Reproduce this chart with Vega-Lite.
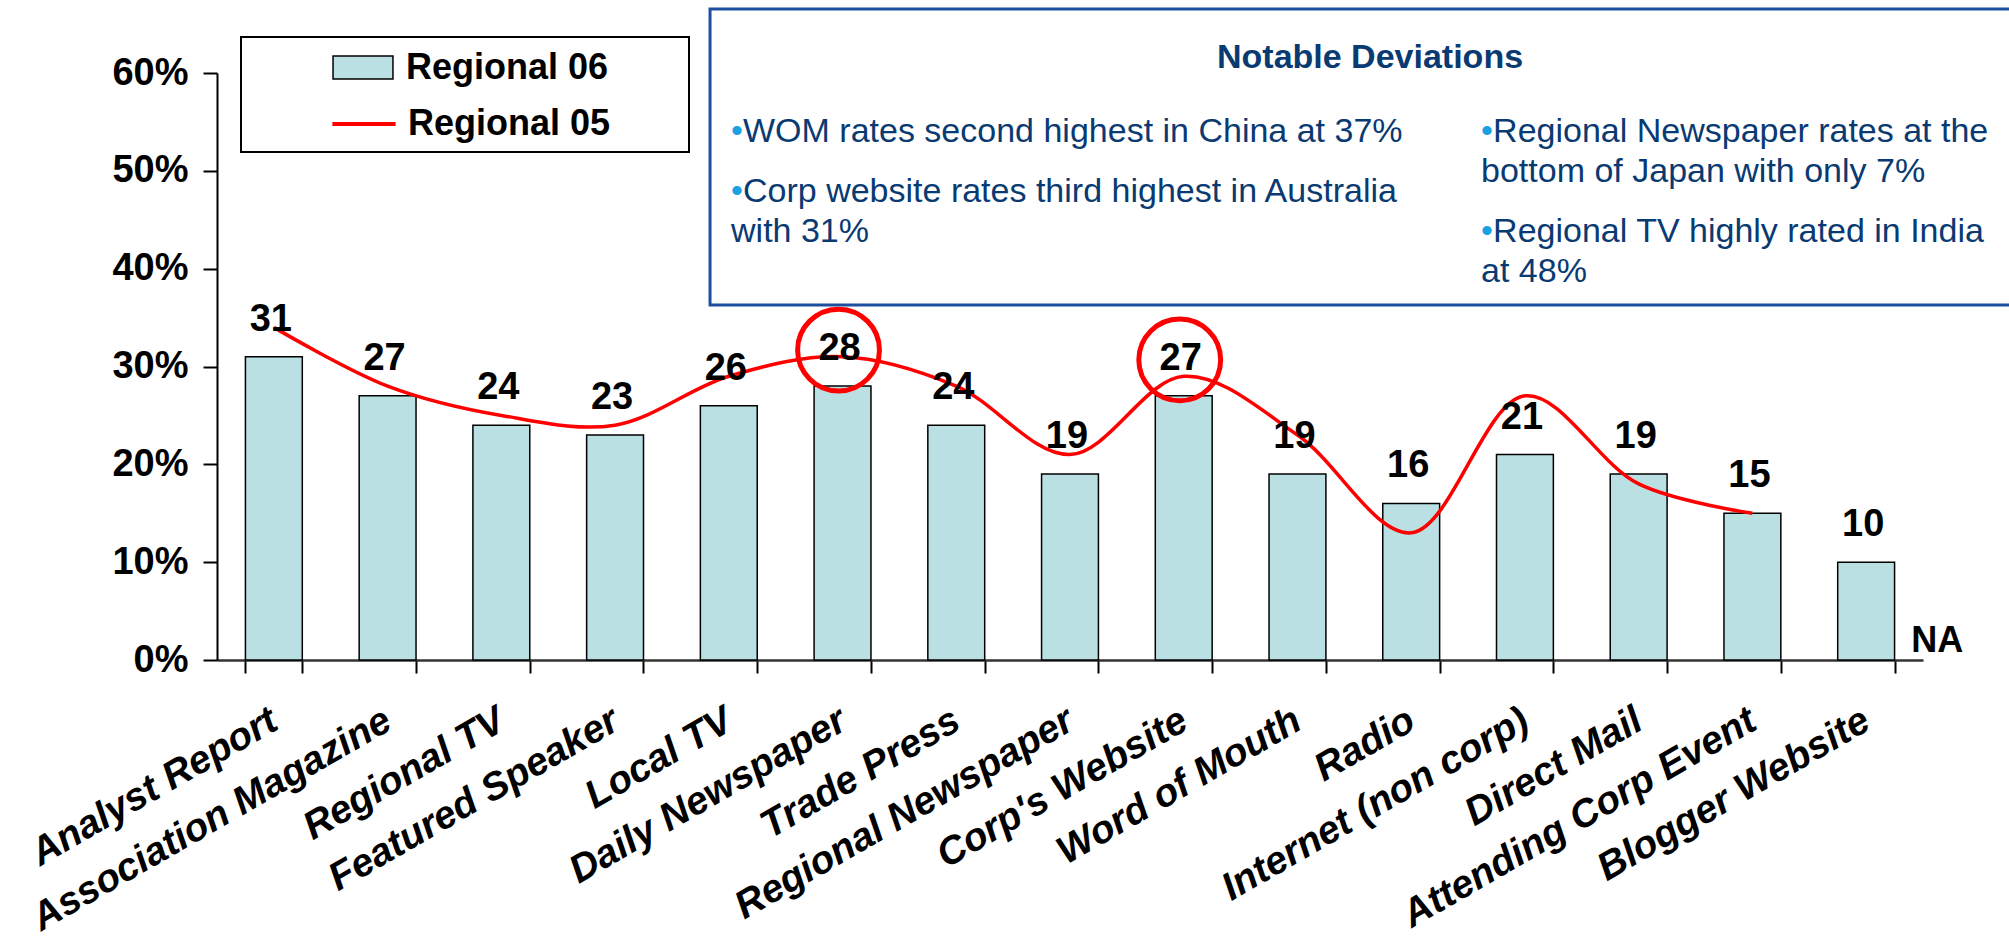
{
  "$schema": "https://vega.github.io/schema/vega-lite/v6.json",
  "width": 1706,
  "height": 587,
  "autosize": {"type": "none"},
  "padding": {"left": 217, "top": 73, "right": 86, "bottom": 278},
  "background": "white",
  "config": {"view": {"stroke": null}, "font": "Liberation Sans", "text": {"font": "Liberation Sans"}},
  "layer": [
    {
      "layer": [
        {
          "data": {"values": [{"x1": 4.335, "x2": 16.5, "y1": 66.54, "y2": 36.29}]},
          "mark": {"type": "rect", "fill": "white", "stroke": "#1D4F9E", "strokeWidth": 3},
          "encoding": {
            "x": {"field": "x1", "type": "quantitative", "scale": {"domain": [0, 15], "nice": false, "zero": false}, "axis": null},
            "x2": {"field": "x2"},
            "y": {"field": "y1", "type": "quantitative", "scale": {"domain": [0, 60], "nice": false}, "axis": null},
            "y2": {"field": "y2"}
          }
        },
        {
          "data": {"values": [{"x1": 0.211, "x2": 4.15, "y1": 63.68, "y2": 51.93}]},
          "mark": {"type": "rect", "fill": "white", "stroke": "black", "strokeWidth": 2},
          "encoding": {
            "x": {"field": "x1", "type": "quantitative"},
            "x2": {"field": "x2"},
            "y": {"field": "y1", "type": "quantitative"},
            "y2": {"field": "y2"}
          }
        },
        {
          "data": {"values": [{"tx": 10.138, "ty": 60.51, "line": "Notable Deviations"}]},
          "mark": {"type": "text", "align": "center", "baseline": "alphabetic", "fontSize": 34, "fontWeight": "bold", "color": "#0A3A72", "font": "Liberation Sans"},
          "encoding": {
            "x": {"field": "tx", "type": "quantitative"},
            "y": {"field": "ty", "type": "quantitative"},
            "text": {"field": "line"}
          }
        },
        {
          "data": {"values": [
            {"tx": 4.5196, "ty": 52.95, "line": "•"},
            {"tx": 4.5196, "ty": 46.81, "line": "•"},
            {"tx": 11.114, "ty": 52.95, "line": "•"},
            {"tx": 11.114, "ty": 42.73, "line": "•"}
          ]},
          "mark": {"type": "text", "align": "left", "baseline": "alphabetic", "fontSize": 34, "color": "#1BA1E2", "font": "Liberation Sans"},
          "encoding": {
            "x": {"field": "tx", "type": "quantitative"},
            "y": {"field": "ty", "type": "quantitative"},
            "text": {"field": "line"}
          }
        },
        {
          "data": {"values": [
            {"tx": 4.625, "ty": 52.95, "line": "WOM rates second highest in China at 37%"},
            {"tx": 4.625, "ty": 46.81, "line": "Corp website rates third highest in Australia"},
            {"tx": 4.5196, "ty": 42.73, "line": "with 31%"},
            {"tx": 11.22, "ty": 52.95, "line": "Regional Newspaper rates at the"},
            {"tx": 11.114, "ty": 48.86, "line": "bottom of Japan with only 7%"},
            {"tx": 11.22, "ty": 42.73, "line": "Regional TV highly rated in India"},
            {"tx": 11.114, "ty": 38.64, "line": "at 48%"}
          ]},
          "mark": {"type": "text", "align": "left", "baseline": "alphabetic", "fontSize": 34, "color": "#0A3A72", "font": "Liberation Sans"},
          "encoding": {
            "x": {"field": "tx", "type": "quantitative"},
            "y": {"field": "ty", "type": "quantitative"},
            "text": {"field": "line"}
          }
        }
      ]
    },
    {
      "data": {"values": [
        {"cat": "Analyst Report", "r06": 31, "r05": 34},
        {"cat": "Association Magazine", "r06": 27, "r05": 28},
        {"cat": "Regional TV", "r06": 24, "r05": 25},
        {"cat": "Featured Speaker", "r06": 23, "r05": 24},
        {"cat": "Local TV", "r06": 26, "r05": 29},
        {"cat": "Daily Newspaper", "r06": 28, "r05": 31},
        {"cat": "Trade Press", "r06": 24, "r05": 28},
        {"cat": "Regional Newspaper", "r06": 19, "r05": 21},
        {"cat": "Corp's Website", "r06": 27, "r05": 29},
        {"cat": "Word of Mouth", "r06": 19, "r05": 23},
        {"cat": "Radio", "r06": 16, "r05": 13},
        {"cat": "Internet (non corp)", "r06": 21, "r05": 27},
        {"cat": "Direct Mail", "r06": 19, "r05": 18},
        {"cat": "Attending Corp Event", "r06": 15, "r05": 15},
        {"cat": "Blogger Website", "r06": 10, "r05": null}
      ]},
      "layer": [
        {
          "mark": {"type": "bar", "stroke": "black", "strokeWidth": 1.5},
          "encoding": {
            "x": {
              "field": "cat", "type": "nominal", "sort": null,
              "scale": {"paddingInner": 0.5, "paddingOuter": 0.25},
              "axis": {
                "orient": "bottom",
                "title": null, "labelAngle": -30, "labelAlign": "right", "labelBaseline": "middle",
                "labelFont": "Liberation Sans", "labelFontSize": 39, "labelFontWeight": "bold", "labelFontStyle": "italic",
                "labelColor": "black", "labelPadding": 44, "labelLimit": 1000, "labelOverlap": false,
                "tickBand": "extent", "tickSize": 13, "tickColor": "black", "tickWidth": 2,
                "domainColor": "#333333", "domainWidth": 2.5
              }
            },
            "y": {
              "field": "r06", "type": "quantitative",
              "scale": {"domain": [0, 60], "nice": false},
              "axis": {
                "orient": "left",
                "title": null, "values": [0, 10, 20, 30, 40, 50, 60], "labelExpr": "datum.value + '%'", "grid": false,
                "labelFont": "Liberation Sans", "labelFontSize": 38, "labelFontWeight": "bold", "labelColor": "black",
                "labelPadding": 15, "tickSize": 14, "tickColor": "black", "tickWidth": 2,
                "domainColor": "black", "domainWidth": 2
              }
            },
            "fill": {
              "datum": "Regional 06",
              "scale": {"domain": ["Regional 06"], "range": ["#BBE0E3"]},
              "legend": {
                "title": null, "orient": "none", "legendX": 117, "legendY": -34.5, "direction": "vertical",
                "padding": 0, "symbolType": "M-1.07,-0.41H1.07V0.41H-1.07Z", "symbolSize": 3136,
                "symbolFillColor": "#BBE0E3", "symbolStrokeColor": "black", "symbolStrokeWidth": 1.5,
                "labelOffset": 14, "labelFont": "Liberation Sans", "labelFontSize": 36,
                "labelFontWeight": "bold", "labelColor": "black", "labelLimit": 1000
              }
            }
          }
        },
        {
          "mark": {"type": "line", "interpolate": "catmull-rom", "strokeWidth": 3.5},
          "encoding": {
            "x": {"field": "cat", "type": "nominal", "sort": null},
            "y": {"field": "r05", "type": "quantitative"},
            "stroke": {
              "datum": "Regional 05",
              "scale": {"domain": ["Regional 05"], "range": ["#FF0000"]},
              "legend": {
                "title": null, "orient": "none", "legendX": 117, "legendY": 21, "direction": "vertical",
                "padding": 0, "symbolType": "M-1.13,0H1.13", "symbolSize": 3136,
                "symbolStrokeColor": "#FF0000", "symbolStrokeWidth": 4,
                "labelOffset": 14, "labelFont": "Liberation Sans", "labelFontSize": 36,
                "labelFontWeight": "bold", "labelColor": "black", "labelLimit": 1000
              }
            }
          }
        },
        {
          "mark": {"type": "text", "baseline": "alphabetic", "align": "center", "dy": -26, "dx": -3, "fontSize": 38, "fontWeight": "bold", "color": "black", "font": "Liberation Sans"},
          "encoding": {
            "x": {"field": "cat", "type": "nominal", "sort": null},
            "y": {"field": "r06", "type": "quantitative"},
            "text": {"field": "r06", "type": "quantitative"}
          }
        },
        {
          "transform": [{"filter": "datum.r05 === null"}],
          "mark": {"type": "text", "baseline": "alphabetic", "align": "center", "dx": 71, "dy": -8, "fontSize": 36, "fontWeight": "bold", "color": "black", "font": "Liberation Sans", "text": "NA"},
          "encoding": {
            "x": {"field": "cat", "type": "nominal", "sort": null},
            "y": {"datum": 0, "type": "quantitative"}
          }
        },
        {
          "transform": [{"filter": {"field": "cat", "oneOf": ["Daily Newspaper", "Corp's Website"]}}],
          "mark": {"type": "point", "shape": "circle", "filled": false, "stroke": "#FF0000", "strokeWidth": 5, "size": 6700, "opacity": 1, "yOffset": -36, "xOffset": -4},
          "encoding": {
            "x": {"field": "cat", "type": "nominal", "sort": null},
            "y": {"field": "r06", "type": "quantitative"}
          }
        }
      ]
    }
  ],
  "resolve": {"scale": {"x": "independent", "y": "independent"}}
}
